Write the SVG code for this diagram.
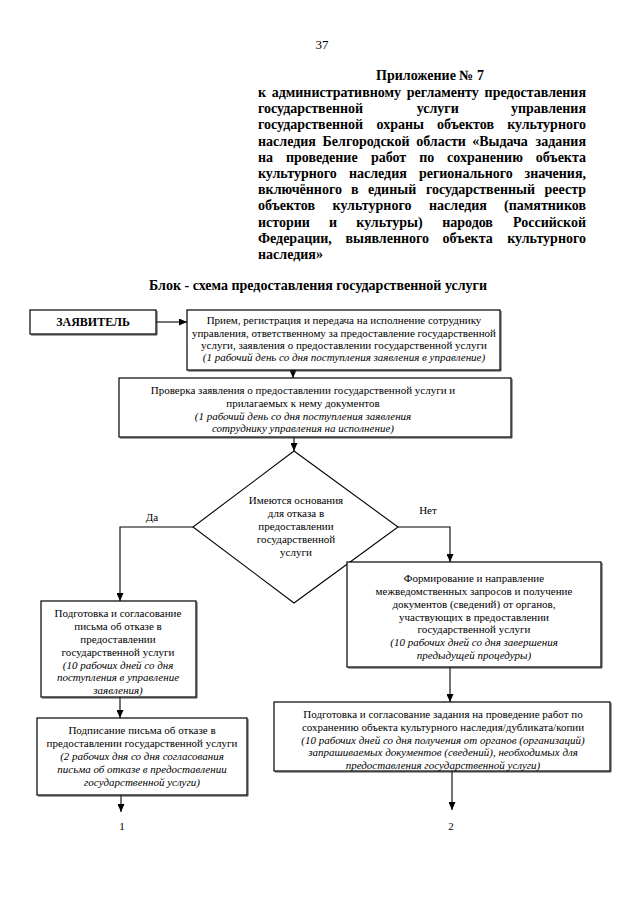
<svg xmlns="http://www.w3.org/2000/svg" width="640" height="905" viewBox="0 0 640 905">
<style>
text{font-family:"Liberation Serif","Times New Roman",serif;fill:#000}
.h{font-size:14px;font-weight:bold}
.b{font-size:11px;text-anchor:middle}
.i{font-style:italic}
.box{fill:#fff;stroke:#000;stroke-width:1.2}
.sh{fill:none;stroke:#444;stroke-width:1}
.c{fill:none;stroke:#000;stroke-width:1.1}
</style>
<defs>
<marker id="ah" markerUnits="userSpaceOnUse" markerWidth="8" markerHeight="7" refX="8" refY="3.5" orient="auto">
<path d="M0,0 L8,3.5 L0,7 z" fill="#000"/>
</marker>
</defs>
<rect width="640" height="905" fill="#fff"/>

<g id="header">
<text x="322" y="49" style="font-size:13px" text-anchor="middle">37</text>
<text class="h" x="430" y="80" text-anchor="middle">Приложение № 7</text>
<text class="h" y="97"><tspan x="258">к</tspan><tspan x="271.7">административному</tspan><tspan x="406.8">регламенту</tspan></text>
<text class="h" y="97" x="586" text-anchor="end">предоставления</text>
<text class="h" y="113.2"><tspan x="258">государственной</tspan><tspan x="416.7">услуги</tspan></text>
<text class="h" y="113.2" x="586" text-anchor="end">управления</text>
<text class="h" y="129.4"><tspan x="258">государственной</tspan><tspan x="376.6">охраны</tspan><tspan x="437">объектов</tspan></text>
<text class="h" y="129.4" x="586" text-anchor="end">культурного</text>
<text class="h" y="145.6"><tspan x="258">наследия</tspan><tspan x="322.6">Белгородской</tspan><tspan x="416.2">области</tspan><tspan x="472.2">«Выдача</tspan></text>
<text class="h" y="145.6" x="586" text-anchor="end">задания</text>
<text class="h" y="161.8"><tspan x="258">на</tspan><tspan x="285.9">проведение</tspan><tspan x="370.9">работ</tspan><tspan x="419.2">по</tspan><tspan x="447.1">сохранению</tspan></text>
<text class="h" y="161.8" x="586" text-anchor="end">объекта</text>
<text class="h" y="178"><tspan x="258">культурного</tspan><tspan x="348.9">наследия</tspan><tspan x="418.9">регионального</tspan></text>
<text class="h" y="178" x="586" text-anchor="end">значения,</text>
<text class="h" y="194.2"><tspan x="258">включённого</tspan><tspan x="351.1">в</tspan><tspan x="368">единый</tspan><tspan x="426">государственный</tspan></text>
<text class="h" y="194.2" x="586" text-anchor="end">реестр</text>
<text class="h" y="210.4"><tspan x="258">объектов</tspan><tspan x="332.6">культурного</tspan><tspan x="429">наследия</tspan></text>
<text class="h" y="210.4" x="586" text-anchor="end">(памятников</text>
<text class="h" y="226.6"><tspan x="258">истории</tspan><tspan x="328.9">и</tspan><tspan x="356.3">культуры)</tspan><tspan x="442.2">народов</tspan></text>
<text class="h" y="226.6" x="586" text-anchor="end">Российской</text>
<text class="h" y="242.8"><tspan x="258">Федерации,</tspan><tspan x="345.4">выявленного</tspan><tspan x="442.6">объекта</tspan></text>
<text class="h" y="242.8" x="586" text-anchor="end">культурного</text>
<text class="h" y="259" x="258">наследия»</text>
<text class="h" x="318" y="290" text-anchor="middle">Блок - схема предоставления государственной услуги</text>
</g>

<g id="connectors">
<path class="c" d="M156,322 H187" marker-end="url(#ah)"/>
<path class="c" d="M293,370 V378" marker-end="url(#ah)"/>
<path class="c" d="M294,437 V451" marker-end="url(#ah)"/>
<path class="c" d="M193,527 H120 V601" marker-end="url(#ah)"/>
<path class="c" d="M398,527 H450 V562" marker-end="url(#ah)"/>
<path class="c" d="M120,697 V718" marker-end="url(#ah)"/>
<path class="c" d="M450,667 V702" marker-end="url(#ah)"/>
<path class="c" d="M121,795 V812" marker-end="url(#ah)"/>
<path class="c" d="M452,771 V810" marker-end="url(#ah)"/>
<text x="152" y="521" style="font-size:11px" text-anchor="middle">Да</text>
<text x="428" y="514" style="font-size:11px" text-anchor="middle">Нет</text>
</g>

<g id="applicant">
<path class="sh" d="M157,311 V335 H31"/>
<rect class="box" x="30" y="310" width="126" height="24"/>
<text x="93" y="326" style="font-size:12px;font-weight:bold" text-anchor="middle">ЗАЯВИТЕЛЬ</text>
</g>

<g id="reception">
<path class="sh" d="M501,311 V371 H188"/>
<rect class="box" x="187" y="310" width="313" height="60"/>
<text class="b" x="344" y="324">Прием, регистрация и передача на исполнение сотруднику</text>
<text class="b" x="344" y="336.5">управления, ответственному за предоставление государственной</text>
<text class="b" x="344" y="349">услуги, заявления о предоставлении государственной услуги</text>
<text class="b i" x="344" y="361">(1 рабочий день со дня поступления заявления в управление)</text>
</g>

<g id="check">
<path class="sh" d="M512,379 V438 H120"/>
<rect class="box" x="119" y="378" width="392" height="59"/>
<text class="b" x="303" y="394">Проверка заявления о предоставлении государственной услуги и</text>
<text class="b" x="303" y="407">прилагаемых к нему документов</text>
<text class="b i" x="303" y="419.5">(1 рабочий день со дня поступления заявления</text>
<text class="b i" x="303" y="432">сотруднику управления на исполнение)</text>
</g>

<g id="decision">
<polygon points="294,451 398,527 294,603 193,527" fill="#fff" stroke="#000" stroke-width="1.1"/>
<text class="b" x="296" y="504">Имеются основания</text>
<text class="b" x="296" y="517">для отказа в</text>
<text class="b" x="296" y="530">предоставлении</text>
<text class="b" x="296" y="543">государственной</text>
<text class="b" x="296" y="556">услуги</text>
</g>

<g id="requests">
<path class="sh" d="M602,563 V668 H348"/>
<rect class="box" x="347" y="562" width="254" height="105"/>
<text class="b" x="474" y="582">Формирование и направление</text>
<text class="b" x="474" y="595">межведомственных запросов и получение</text>
<text class="b" x="474" y="608">документов (сведений) от органов,</text>
<text class="b" x="474" y="621">участвующих в предоставлении</text>
<text class="b" x="474" y="633">государственной услуги</text>
<text class="b i" x="474" y="646">(10 рабочих дней со дня завершения</text>
<text class="b i" x="474" y="659">предыдущей процедуры)</text>
</g>

<g id="refusal-prep">
<path class="sh" d="M197,602 V698 H42"/>
<rect class="box" x="41" y="601" width="155" height="96"/>
<text class="b" x="118" y="617">Подготовка и согласование</text>
<text class="b" x="118" y="630">письма об отказе в</text>
<text class="b" x="118" y="643">предоставлении</text>
<text class="b" x="118" y="656">государственной услуги</text>
<text class="b i" x="118" y="669">(10 рабочих дней со дня</text>
<text class="b i" x="118" y="681">поступления в управление</text>
<text class="b i" x="118" y="694">заявления)</text>
</g>

<g id="refusal-sign">
<path class="sh" d="M248,719 V796 H38"/>
<rect class="box" x="37" y="718" width="210" height="77"/>
<text class="b" x="142" y="734">Подписание письма об отказе в</text>
<text class="b" x="142" y="747">предоставлении государственной услуги</text>
<text class="b i" x="142" y="760">(2 рабочих дня со дня согласования</text>
<text class="b i" x="142" y="773">письма об отказе в предоставлении</text>
<text class="b i" x="142" y="786">государственной услуги)</text>
</g>

<g id="task-prep">
<path class="sh" d="M611,703 V772 H275"/>
<rect class="box" x="274" y="702" width="336" height="69"/>
<text class="b" x="443" y="718">Подготовка и согласование задания на проведение работ по</text>
<text class="b" x="443" y="731">сохранению объекта культурного наследия/дубликата/копии</text>
<text class="b i" x="443" y="744">(10 рабочих дней со дня получения от органов (организаций)</text>
<text class="b i" x="443" y="756">запрашиваемых документов (сведений), необходимых для</text>
<text class="b i" x="443" y="769">предоставления государственной услуги)</text>
</g>

<g id="out1"><text x="122" y="830" style="font-size:11px" text-anchor="middle">1</text></g>
<g id="out2"><text x="451" y="830" style="font-size:11px" text-anchor="middle">2</text></g>
</svg>
